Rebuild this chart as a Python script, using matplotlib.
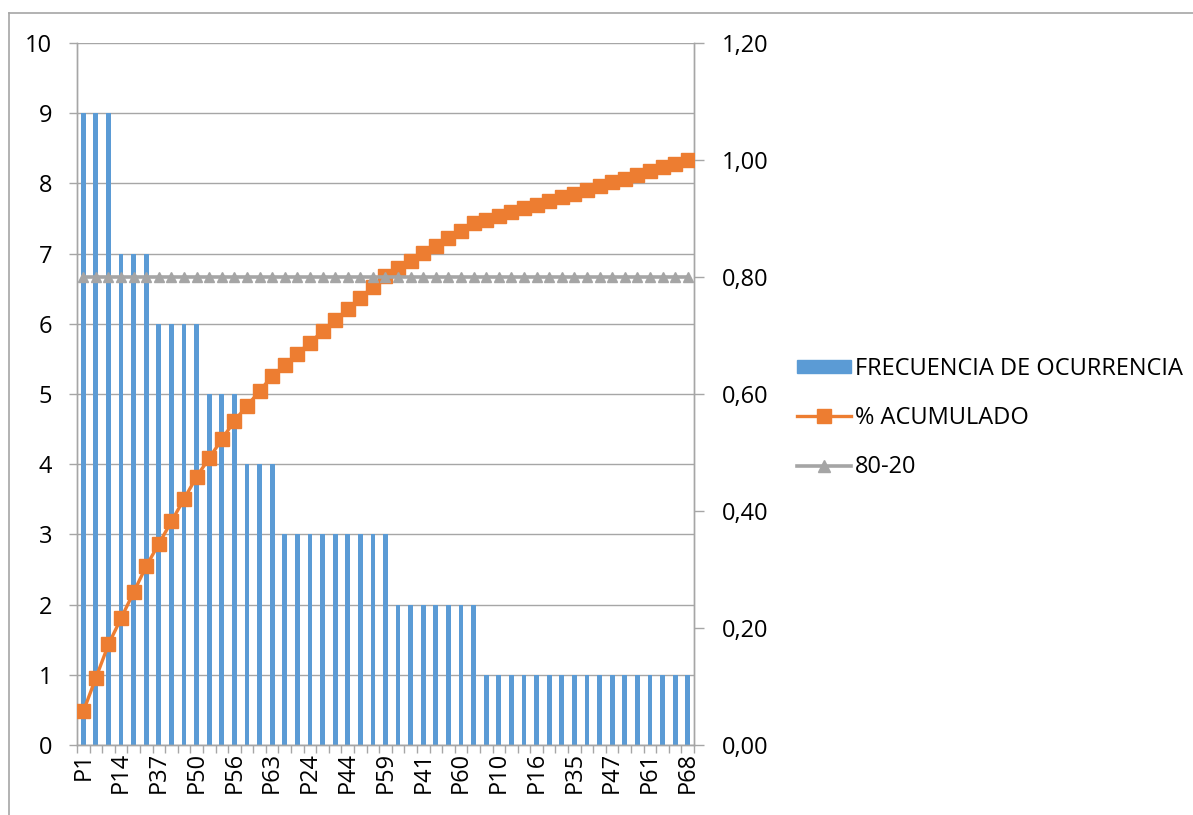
import matplotlib
matplotlib.use("Agg")
import matplotlib.pyplot as plt
import numpy as np
from matplotlib.lines import Line2D
from matplotlib.ticker import FuncFormatter, MultipleLocator

# frequency of occurrence per cause, already sorted (Pareto order)
counts = ([9] * 3 + [7] * 3 + [6] * 4 + [5] * 3 + [4] * 3
          + [3] * 9 + [2] * 7 + [1] * 17)
# only every third category name is readable on the axis
shown_labels = ["P1", "P14", "P37", "P50", "P56", "P63", "P24", "P44", "P59",
                "P41", "P60", "P10", "P16", "P35", "P47", "P61", "P68"]
label_step = 3
pareto_cut = 0.80

counts = np.array(counts)
cum_share = np.cumsum(counts) / counts.sum()
x = np.arange(len(counts))

BLUE = "#5B9BD5"
ORANGE = "#ED7D31"
GRAY = "#A5A5A5"
AXIS = "#A6A6A6"

plt.rcParams["font.family"] = ["Open Sans", "DejaVu Sans"]
FS = 17

fig = plt.figure(figsize=(11.93, 8.15), dpi=100)
W, H = 1193, 815
ax = fig.add_axes([77 / W, 1 - 745 / H, (694 - 77) / W, (745 - 43) / H])
ax2 = ax.twinx()

ax.bar(x, counts, width=0.38, color=BLUE, zorder=2,
       label="FRECUENCIA DE OCURRENCIA")
ax.set_xlim(-0.5, len(counts) - 0.5)
ax.set_ylim(0, 10)
ax.yaxis.set_major_locator(MultipleLocator(1))
ax.set_axisbelow(True)
ax.grid(True, axis="y", color=AXIS, linewidth=1.0)

ax.set_xticks(x[::label_step])
ax.set_xticklabels(shown_labels, rotation=90, fontsize=FS)
ax.set_xticks(np.arange(-0.5, len(counts)), minor=True)
ax.tick_params(axis="x", which="major", length=0, pad=5)
ax.tick_params(axis="x", which="minor", length=6, color=AXIS, width=1)
ax.tick_params(axis="y", length=6, color=AXIS, width=1, labelsize=FS, pad=12)

ax2.plot(x, cum_share, color=ORANGE, linewidth=2.4, marker="s",
         markersize=9.5, zorder=3, label="% ACUMULADO")
ax2.plot(x, np.full(len(x), pareto_cut), color=GRAY, linewidth=2.6,
         marker="^", markersize=7.5, zorder=4, label="80-20")
ax2.set_ylim(0, 1.2)
ax2.yaxis.set_major_locator(MultipleLocator(0.2))
ax2.yaxis.set_major_formatter(
    FuncFormatter(lambda v, p: f"{v:.2f}".replace(".", ",")))
ax2.tick_params(axis="y", length=7, color=AXIS, width=1, labelsize=FS, pad=13)

for a in (ax, ax2):
    a.spines["top"].set_visible(False)
    for s in ("left", "right", "bottom"):
        a.spines[s].set_color(AXIS)
        a.spines[s].set_linewidth(1.0)
ax2.set_zorder(ax.get_zorder() + 1)
ax2.patch.set_visible(False)

handles = [
    plt.Rectangle((0, 0), 1, 1, color=BLUE),
    Line2D([], [], color=ORANGE, linewidth=2.4, marker="s", markersize=9.5),
    Line2D([], [], color=GRAY, linewidth=2.6, marker="^", markersize=8),
]
labels = ["FRECUENCIA DE OCURRENCIA", "% ACUMULADO", "80-20"]
fig.legend(handles, labels, loc="center left",
           bbox_to_anchor=(788 / W, 1 - 418 / H), frameon=False,
           fontsize=FS, handlelength=2.25, handleheight=0.5,
           handletextpad=0.2, labelspacing=1.07, borderaxespad=0)

# chart-area frame (only top and left edges are inside the image)
fig.add_artist(Line2D([9 / W, 1], [1 - 13 / H] * 2, transform=fig.transFigure,
                      color=AXIS, linewidth=1.2))
fig.add_artist(Line2D([9 / W] * 2, [0, 1 - 13 / H], transform=fig.transFigure,
                      color=AXIS, linewidth=1.2))

fig.savefig("out.png", dpi=100)
